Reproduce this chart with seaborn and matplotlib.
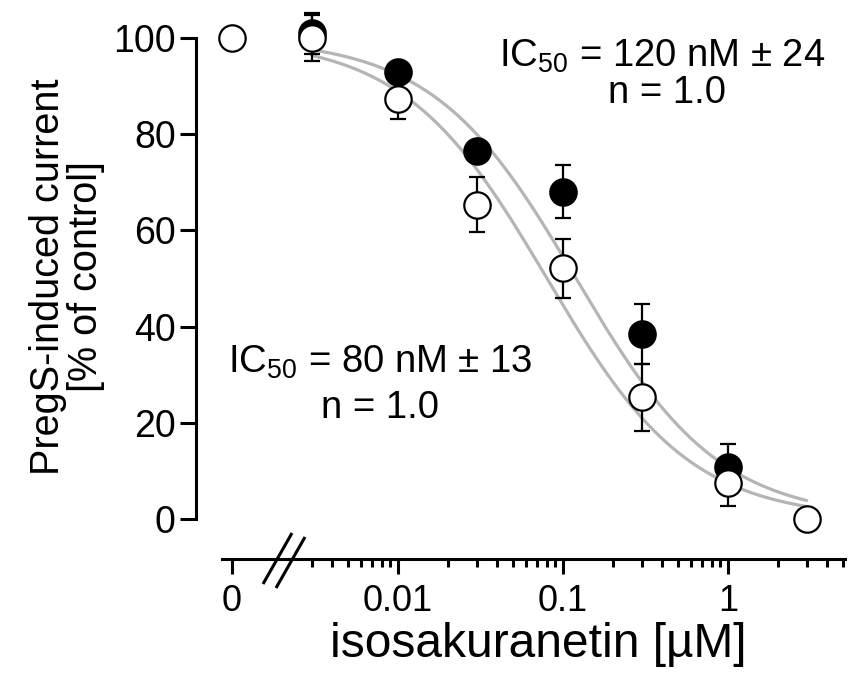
import numpy as np
import pandas as pd
import matplotlib
matplotlib.use("Agg")
import matplotlib.pyplot as plt
import seaborn as sns
from matplotlib.ticker import LogLocator, NullFormatter
from matplotlib.lines import Line2D

# ---------------- data ----------------
filled_conc = [0.003, 0.01, 0.03, 0.1, 0.3, 1.0]
filled_mean = [101.0, 93.0, 76.5, 68.0, 38.5, 10.8]
filled_err = [4.3, 2.0, 2.0, 5.5, 6.2, 4.7]

open_conc = [0.0, 0.003, 0.01, 0.03, 0.1, 0.3, 1.0, 3.0]
open_mean = [100.0, 100.0, 87.4, 65.3, 52.1, 25.3, 7.4, 0.0]
open_err = [0.0, 4.8, 4.2, 5.7, 6.2, 7.0, 4.8, 0.0]

ic50_filled = 0.120   # µM
ic50_open = 0.080     # µM
hill_n = 1.0
fit_range = [0.003, 3.0]

y_ticks = [0, 20, 40, 60, 80, 100]
x_log_ticks = [0.01, 0.1, 1]
x_log_labels = ["0.01", "0.1", "1"]

text_filled = ["IC$_{50}$ = 120 nM ± 24", "n = 1.0"]
text_open = ["IC$_{50}$ = 80 nM ± 13", "n = 1.0"]

# ---------------- style ----------------
sns.set_theme(style="ticks")
plt.rcParams["font.family"] = ["Liberation Sans", "DejaVu Sans"]
plt.rcParams["mathtext.fontset"] = "custom"
plt.rcParams["mathtext.rm"] = "Liberation Sans"
plt.rcParams["mathtext.it"] = "Liberation Sans:italic"
plt.rcParams["mathtext.bf"] = "Liberation Sans:bold"
for key in ["text.color", "axes.labelcolor", "xtick.color", "ytick.color",
            "xtick.labelcolor", "ytick.labelcolor", "axes.edgecolor"]:
    plt.rcParams[key] = "black"

W, H = 848, 677
fig = plt.figure(figsize=(W / 100, H / 100), dpi=100)
fig.patch.set_facecolor("white")

def fx(x):
    return x / W

def fy(y):
    return 1 - y / H

bottom_px, top_px = 559, 5
ax0 = fig.add_axes([fx(196), fy(bottom_px), (288 - 196) / W, (bottom_px - top_px) / H])
ax1 = fig.add_axes([fx(288), fy(bottom_px), (845 - 288) / W, (bottom_px - top_px) / H], sharey=ax0)
for a in (ax0, ax1):
    a.set_facecolor("none")

ax0.set_xlim(-1, 1.5556)
ax0.set_ylim(-8.316, 106.86)
ax1.set_xscale("log")
ax1.set_xlim(10 ** (-2 - 110 / 165), 10 ** (-2 + 447 / 165))

grey = "#b5b5b5"
lw_axis = 2.2

# fit curves (Hill equation from the stated parameters)
xfit = np.geomspace(fit_range[0], fit_range[1], 300)
fit_df = pd.DataFrame({
    "x": np.concatenate([xfit, xfit]),
    "y": np.concatenate([100 / (1 + (xfit / ic50_filled) ** hill_n),
                         100 / (1 + (xfit / ic50_open) ** hill_n)]),
    "set": ["filled"] * len(xfit) + ["open"] * len(xfit),
})
sns.lineplot(data=fit_df, x="x", y="y", units="set", estimator=None, ax=ax1,
             color=grey, linewidth=2.3, zorder=1, legend=False)

fc = np.array(filled_conc)
fm = np.array(filled_mean)
fe = np.array(filled_err)
oc = np.array(open_conc)
om = np.array(open_mean)
oe = np.array(open_err)

cap_kw = dict(fmt="none", ecolor="black", elinewidth=1.6, capsize=5.5, capthick=1.6)

# filled series
ax1.errorbar(fc, fm, yerr=fe, zorder=2, **cap_kw)
sns.scatterplot(x=fc, y=fm, ax=ax1, marker="o", s=19 ** 2, color="black",
                edgecolor="black", linewidth=1.6, zorder=3, clip_on=False, legend=False)

# open series: zero concentration on the left (linear) axis, others on log axis
pos = oc > 0
ax1.errorbar(oc[pos], om[pos], yerr=oe[pos], zorder=4, **cap_kw)
sns.scatterplot(x=oc[pos], y=om[pos], ax=ax1, marker="o", s=19 ** 2, color="white",
                edgecolor="black", linewidth=1.6, zorder=5, clip_on=False, legend=False)
sns.scatterplot(x=oc[~pos], y=om[~pos], ax=ax0, marker="o", s=19 ** 2, color="white",
                edgecolor="black", linewidth=1.6, zorder=5, clip_on=False, legend=False)

# spines
for sp in ["top", "right"]:
    ax0.spines[sp].set_visible(False)
    ax1.spines[sp].set_visible(False)
ax1.spines["left"].set_visible(False)
ax0.spines["left"].set_bounds(0, 100)
ax0.spines["bottom"].set_bounds(-0.2778, 1.5556)
for a in (ax0, ax1):
    for sp in a.spines.values():
        sp.set_linewidth(lw_axis)
        sp.set_color("black")

# ticks
ax0.set_yticks(y_ticks)
ax0.set_yticklabels([str(v) for v in y_ticks])
ax0.set_xticks([0])
ax0.set_xticklabels(["0"])
ax0.tick_params(axis="y", length=11.5, width=lw_axis, labelsize=27, pad=3, color="black",
                labelcolor="black")
ax0.tick_params(axis="x", length=11, width=lw_axis, labelsize=26, pad=7, color="black",
                labelcolor="black")

ax1.set_xticks(x_log_ticks)
ax1.set_xticklabels(x_log_labels)
ax1.xaxis.set_minor_locator(LogLocator(base=10, subs=np.arange(2, 10)))
ax1.xaxis.set_minor_formatter(NullFormatter())
ax1.tick_params(axis="x", which="major", length=11, width=lw_axis, labelsize=26, pad=7,
                color="black", labelcolor="black")
ax1.tick_params(axis="x", which="minor", length=6, width=lw_axis, color="black")
ax1.tick_params(axis="y", left=False, labelleft=False)

for a in (ax0, ax1):
    a.set_xlabel("")
    a.set_ylabel("")

# axis labels
ax0.set_ylabel("PregS-induced current\n[% of control]", fontsize=28.5, linespacing=1.0,
               color="black")
ax0.yaxis.set_label_coords((105 - 196) / 92, (559 - 276.5) / 554)
ax1.set_xlabel("isosakuranetin [µM]", fontsize=34.5, color="black")
ax1.xaxis.set_label_coords((538 - 288) / 557, (559 - 622) / 554)

# axis break marks
for (x0, y0, x1, y1) in [(263, 584, 292, 533), (276, 588, 305, 537)]:
    fig.add_artist(Line2D([fx(x0), fx(x1)], [fy(y0), fy(y1)], transform=fig.transFigure,
                          color="black", linewidth=lw_axis, solid_capstyle="butt"))

# annotations
fig.text(fx(662), fy(67), text_filled[0], fontsize=27.5, ha="center", va="baseline", color="black")
fig.text(fx(667), fy(103), text_filled[1], fontsize=27.5, ha="center", va="baseline", color="black")
fig.text(fx(380), fy(373), text_open[0], fontsize=27.5, ha="center", va="baseline", color="black")
fig.text(fx(380), fy(418), text_open[1], fontsize=27.5, ha="center", va="baseline", color="black")

fig.savefig("out.png", dpi=100, facecolor="white")
